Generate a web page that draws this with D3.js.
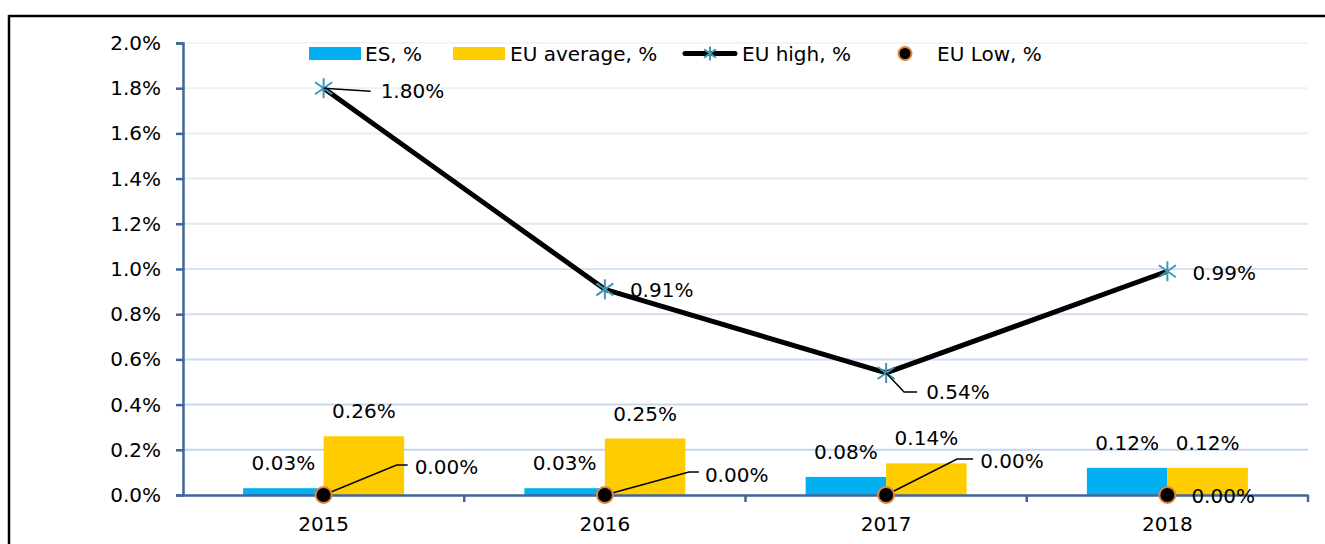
<!DOCTYPE html>
<html><head><meta charset="utf-8">
<script src="https://cdn.jsdelivr.net/npm/d3@7"></script>
<style>
html,body{margin:0;padding:0;background:#fff;}
text{font-family:"DejaVu Sans",sans-serif;}
</style></head>
<body>
<svg id="chart" width="1325" height="544"></svg>
<script>
const categories = ["2015","2016","2017","2018"];
const esValues = [0.03, 0.03, 0.08, 0.12];
const euAvgValues = [0.26, 0.25, 0.14, 0.12];
const euHighValues = [1.80, 0.91, 0.54, 0.99];
const euLowValues = [0.00, 0.00, 0.00, 0.00];
const yTicks = [0,0.2,0.4,0.6,0.8,1.0,1.2,1.4,1.6,1.8,2.0];
const seriesNames = ["ES, %","EU average, %","EU high, %","EU Low, %"];

(function(){
const svg = d3.select("#chart");
const FS = 20;
const FF = "DejaVu Sans, sans-serif";
const pLeft = 183, pRight = 1308, pTop = 43, pBottom = 495;

// frame
svg.append("line").attr("x1",9).attr("x2",1325).attr("y1",16).attr("y2",16).attr("stroke","#000").attr("stroke-width",2.5);
svg.append("line").attr("x1",9).attr("x2",9).attr("y1",15).attr("y2",544).attr("stroke","#000").attr("stroke-width",2.5);

const x = d3.scaleBand().domain(categories).range([pLeft,pRight]).padding(0);
const x1 = d3.scaleBand().domain(["es","eu"]).range([0,x.bandwidth()]).paddingInner(0).paddingOuter(0.747);
const y = d3.scaleLinear().domain([0,2.0]).range([pBottom,pTop]);

// gridlines with gradient colors
const gridCol = d3.interpolateRgb("#f0f5fb","#c0d6ee");
svg.append("g").selectAll("line").data(yTicks.filter(d=>d>0)).join("line")
  .attr("x1",pLeft).attr("x2",pRight)
  .attr("y1",d=>y(d)).attr("y2",d=>y(d))
  .attr("stroke",d=>gridCol(1-(d-0.2)/1.8)).attr("stroke-width",2);

const axisCol = "#41659a";
// y axis
const yAxis = d3.axisLeft(y).tickValues(yTicks).tickFormat(d=>d.toFixed(1)+"%").tickSize(7).tickPadding(15);
const gy = svg.append("g").attr("transform",`translate(${pLeft},0)`).call(yAxis);
gy.select(".domain").attr("stroke",axisCol).attr("stroke-width",2.5);
gy.selectAll(".tick line").attr("stroke",axisCol).attr("stroke-width",2.5);
gy.selectAll(".tick text").attr("font-size",FS).attr("fill","#000").attr("font-family",FF);

// bars
const gb = svg.append("g");
gb.selectAll("rect.es").data(categories).join("rect").attr("class","es")
  .attr("x",(d)=>x(d)+x1("es")).attr("width",x1.bandwidth())
  .attr("y",(d,i)=>y(esValues[i])).attr("height",(d,i)=>y(0)-y(esValues[i]))
  .attr("fill","#00b0f0");
gb.selectAll("rect.eu").data(categories).join("rect").attr("class","eu")
  .attr("x",(d)=>x(d)+x1("eu")).attr("width",x1.bandwidth())
  .attr("y",(d,i)=>y(euAvgValues[i])).attr("height",(d,i)=>y(0)-y(euAvgValues[i]))
  .attr("fill","#ffcc00");

// x axis
const xAxis = d3.axisBottom(x).tickSize(0).tickPadding(22);
const gx = svg.append("g").attr("transform",`translate(0,${pBottom})`).call(xAxis);
gx.select(".domain").attr("stroke",axisCol).attr("stroke-width",2.5);
gx.selectAll(".tick text").attr("font-size",FS).attr("fill","#000").attr("font-family",FF);
// boundary ticks
const bounds = categories.map(c=>x(c)+x.bandwidth());
svg.append("g").selectAll("line").data(bounds).join("line")
  .attr("x1",d=>d).attr("x2",d=>d).attr("y1",pBottom).attr("y2",pBottom+7)
  .attr("stroke",axisCol).attr("stroke-width",2.5);

// bar labels
const lab = svg.append("g").attr("font-size",FS).attr("fill","#000").attr("font-family",FF);
lab.selectAll("text.es").data(categories).join("text").attr("class","es")
  .attr("x",d=>x(d)+x1("es")+x1.bandwidth()/2).attr("y",(d,i)=>y(esValues[i])-25)
  .attr("text-anchor","middle").attr("dominant-baseline","central")
  .text((d,i)=>esValues[i].toFixed(2)+"%");
lab.selectAll("text.eu").data(categories).join("text").attr("class","eu")
  .attr("x",d=>x(d)+x1("eu")+x1.bandwidth()/2).attr("y",(d,i)=>y(euAvgValues[i])-25)
  .attr("text-anchor","middle").attr("dominant-baseline","central")
  .text((d,i)=>euAvgValues[i].toFixed(2)+"%");

// EU high line
const cx = d => x(d)+x.bandwidth()/2;
const lineGen = d3.line().x((d,i)=>cx(categories[i])).y(d=>y(d));
svg.append("path").datum(euHighValues).attr("d",lineGen)
  .attr("fill","none").attr("stroke","#000").attr("stroke-width",5).attr("stroke-linejoin","round");

function star(g, px, py, r){
  const s = g.append("g").attr("transform",`translate(${px},${py})`).attr("stroke","#4197b4").attr("stroke-width",2);
  s.append("line").attr("x1",0).attr("x2",0).attr("y1",-r).attr("y2",r);
  s.append("line").attr("x1",-r*0.85).attr("x2",r*0.85).attr("y1",-r*0.6).attr("y2",r*0.6);
  s.append("line").attr("x1",-r*0.85).attr("x2",r*0.85).attr("y1",r*0.6).attr("y2",-r*0.6);
}
const gm = svg.append("g");
euHighValues.forEach((v,i)=>star(gm, cx(categories[i]), y(v), 10));

// EU high labels: offsets relative to point
const highLabelOffsets = [
  {dx:57, dy:3, leader:[[0,0],[47,3]]},
  {dx:25, dy:1, leader:null},
  {dx:40, dy:19, leader:[[0,0],[18,19],[31,19]]},
  {dx:25, dy:2, leader:null}
];
const gl = svg.append("g").attr("font-family",FF);
euHighValues.forEach((v,i)=>{
  const px=cx(categories[i]), py=y(v), o=highLabelOffsets[i];
  if(o.leader){
    gl.append("path").attr("d",d3.line()(o.leader.map(p=>[px+p[0],py+p[1]])))
      .attr("fill","none").attr("stroke","#000").attr("stroke-width",1.5);
  }
  gl.append("text").attr("x",px+o.dx).attr("y",py+o.dy).attr("dominant-baseline","central")
    .attr("font-size",FS).text(v.toFixed(2)+"%");
});

// EU low markers + labels
const lowLabelOffsets = [
  {dx:91, dy:-28, leader:[[0,0],[73,-30],[84,-30]]},
  {dx:100, dy:-20, leader:[[0,0],[84,-23],[94,-23]]},
  {dx:94, dy:-34, leader:[[0,0],[71,-36],[87,-36]]},
  {dx:24, dy:1, leader:null}
];
euLowValues.forEach((v,i)=>{
  const px=cx(categories[i]), py=y(v), o=lowLabelOffsets[i];
  if(o.leader){
    gl.append("path").attr("d",d3.line()(o.leader.map(p=>[px+p[0],py+p[1]])))
      .attr("fill","none").attr("stroke","#000").attr("stroke-width",1.5);
  }
});
svg.append("g").selectAll("circle").data(euLowValues).join("circle")
  .attr("cx",(d,i)=>cx(categories[i])).attr("cy",d=>y(d)).attr("r",8)
  .attr("fill","#000").attr("stroke","#e2843a").attr("stroke-width",2);
euLowValues.forEach((v,i)=>{
  const px=cx(categories[i]), py=y(v), o=lowLabelOffsets[i];
  gl.append("text").attr("x",px+o.dx).attr("y",py+o.dy).attr("dominant-baseline","central")
    .attr("font-size",FS).text(v.toFixed(2)+"%");
});

// legend
const lg = svg.append("g").attr("font-size",FS).attr("font-family",FF);
const ly = 53.5;
lg.append("rect").attr("x",309).attr("y",ly-6.5).attr("width",52).attr("height",13).attr("fill","#00b0f0");
lg.append("text").attr("x",365).attr("y",ly).attr("dominant-baseline","central").text(seriesNames[0]);
lg.append("rect").attr("x",453).attr("y",ly-6.5).attr("width",52).attr("height",13).attr("fill","#ffcc00");
lg.append("text").attr("x",510).attr("y",ly).attr("dominant-baseline","central").text(seriesNames[1]);
lg.append("line").attr("x1",685).attr("x2",735).attr("y1",ly).attr("y2",ly).attr("stroke","#000").attr("stroke-width",5).attr("stroke-linecap","round");
star(lg, 710, ly, 7);
lg.append("text").attr("x",742).attr("y",ly).attr("dominant-baseline","central").text(seriesNames[2]);
lg.append("circle").attr("cx",905).attr("cy",ly).attr("r",6.5).attr("fill","#000").attr("stroke","#e2843a").attr("stroke-width",2);
lg.append("text").attr("x",937).attr("y",ly).attr("dominant-baseline","central").text(seriesNames[3]);
})();
</script>
</body></html>
